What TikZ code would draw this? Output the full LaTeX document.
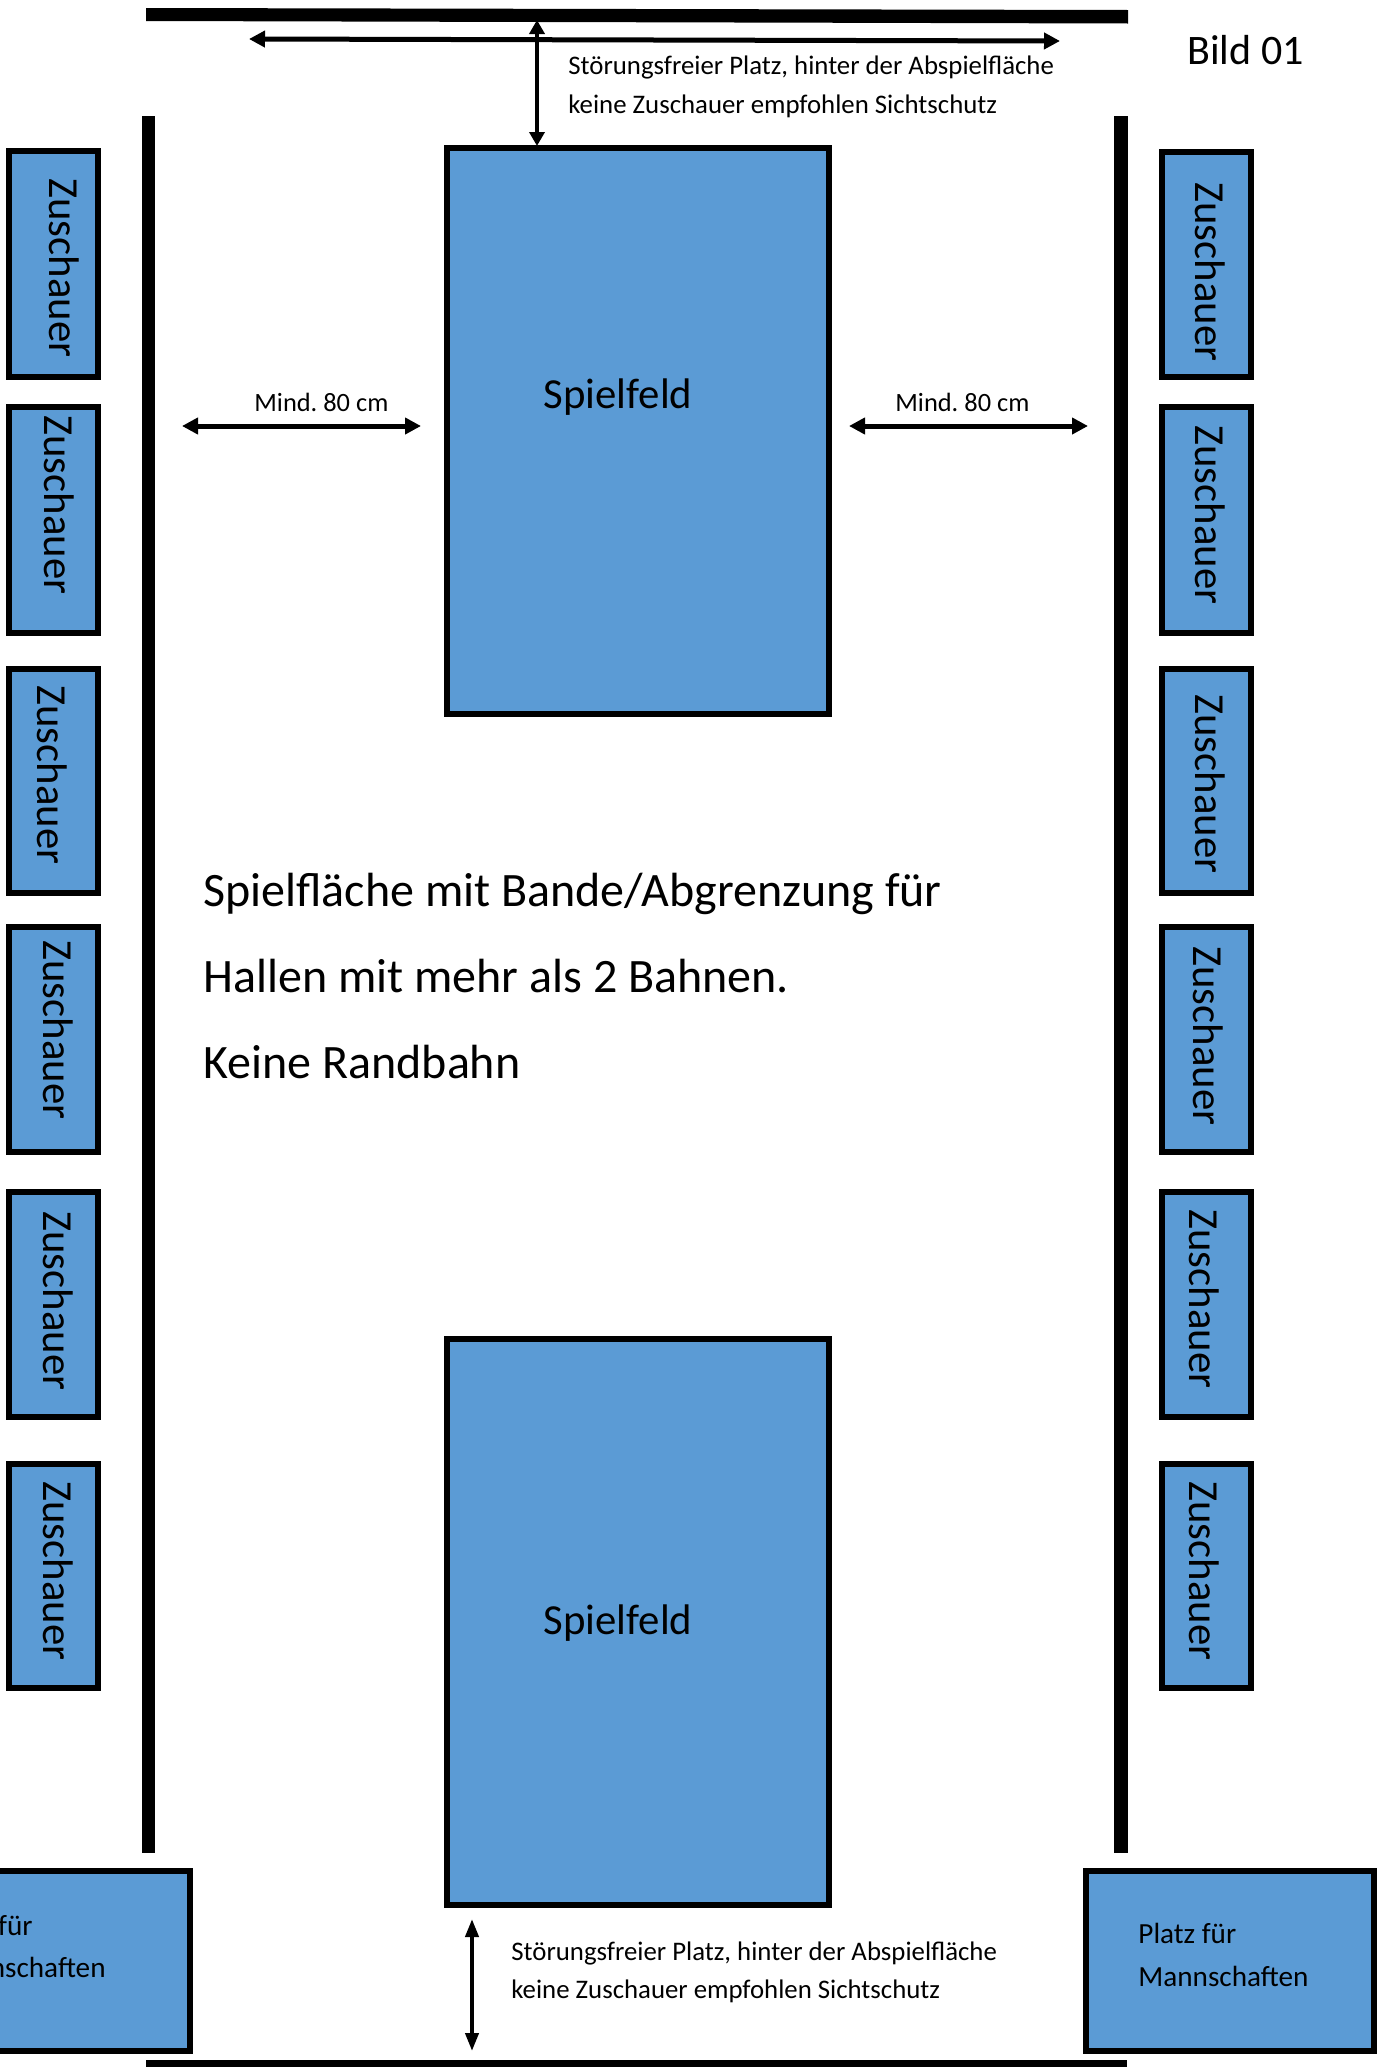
\documentclass[tikz,border=0pt]{standalone}
\usepackage{fontspec}
\setmainfont{Carlito}
\usetikzlibrary{arrows.meta}
\definecolor{feld}{RGB}{91,155,213}
\tikzset{
  x=0.5pt,y=-0.5pt,
  blue box/.style={draw=black,fill=feld,line width=2.6pt,rectangle,inner sep=0pt,outer sep=0pt},
  field box/.style={blue box,line width=3pt,minimum width=191pt,minimum height=283pt,anchor=north west},
  wall/.style={fill=black,draw=none},
  dim/.style={line width=2.5pt,{Triangle[length=8pt,width=8pt]}-{Triangle[length=8pt,width=8pt]}},
  vdimtop/.style={line width=2pt,{Triangle[length=7pt,width=7.5pt]}-{Triangle[length=7pt,width=7.5pt]}},
  vdim/.style={line width=2pt,{Triangle[length=9pt,width=6.5pt]}-{Triangle[length=9pt,width=6.5pt]}},
  big/.style={font=\fontsize{21.4}{25}\selectfont,inner sep=0pt},
  huge text/.style={font=\fontsize{24}{28}\selectfont,inner sep=0pt,anchor=base west},
  small/.style={font=\fontsize{13.2}{16}\selectfont\frenchspacing,inner sep=0pt,anchor=base west},
  note/.style={font=\fontsize{13.4}{16}\selectfont\frenchspacing,inner sep=0pt,anchor=base west},
  team/.style={font=\fontsize{14.6}{18}\selectfont,inner sep=0pt,anchor=base west},
  vert/.style={big,rotate=-90}
}
\newcommand{\zbox}[6]{%
  \path[blue box] (#2,#3) rectangle (#4,#5);
  \node[vert] (#1) at (#6) {Zuschauer};
}
\begin{document}
\begin{tikzpicture}
\useasboundingbox (0,0) rectangle (1383,2067);
\fill[white] (0,0) rectangle (1383,2067);
% walls
\fill[wall] (146,8) -- (1128,10) -- (1128,23.5) -- (146,21) -- cycle;
\fill[wall] (142,116) rectangle (155,1853);
\fill[wall] (1114,116) rectangle (1128,1853);
\fill[wall] (146,2060) rectangle (1127,2067);
% fields
\node[field box] (feldA) at (447,148) {};
\node[field box] (feldB) at (447,1339) {};
\node[big] (labelA) at (618,397) {Spielfeld};
\node[big] (labelB) at (618,1623) {Spielfeld};
% spectators left
\zbox{zl1}{9}{151}{98}{377}{64,268}
\zbox{zl2}{9}{407}{98}{633}{59,505}
\zbox{zl3}{9}{669}{98}{893}{52,775}
\zbox{zl4}{9}{927}{98}{1152}{58,1030}
\zbox{zl5}{9}{1192}{98}{1417}{58,1301}
\zbox{zl6}{9}{1464}{98}{1688}{58,1571}
% spectators right
\zbox{zr1}{1162}{152}{1251}{377}{1210,272}
\zbox{zr2}{1162}{407}{1251}{633}{1210,515}
\zbox{zr3}{1162}{669}{1251}{893}{1210,784}
\zbox{zr4}{1162}{927}{1251}{1152}{1208,1036}
\zbox{zr5}{1162}{1192}{1251}{1417}{1204,1299}
\zbox{zr6}{1162}{1464}{1251}{1688}{1204,1571}
% team boxes
\path[blue box] (-10,1871) rectangle (190,2051);
\path[blue box] (1086,1871) rectangle (1374,2051);
\node[team,anchor=base east] (teamL1) at (33,1935) {Platz für};
\node[team,anchor=base east] (teamL2) at (106,1977) {Mannschaften};
\node[team] (teamR1) at (1138,1943) {Platz für};
\node[team] (teamR2) at (1138,1986) {Mannschaften};
% text
\node[big,anchor=base west,font=\fontsize{21}{25}\selectfont] (bild) at (1187,64) {Bild 01};
\node[note] (t1) at (568,74) {Störungsfreier Platz, hinter der Abspielfläche};
\node[note] (t2) at (568,113) {keine Zuschauer empfohlen Sichtschutz};
\node[note] (t3) at (511,1960) {Störungsfreier Platz, hinter der Abspielfläche};
\node[note] (t4) at (511,1998) {keine Zuschauer empfohlen Sichtschutz};
\node[small] (m1) at (254,411) {Mind. 80 cm};
\node[small] (m2) at (895,411) {Mind. 80 cm};
\node[huge text] (h1) at (203,906) {Spielfläche mit Bande/Abgrenzung für};
\node[huge text] (h2) at (203,992) {Hallen mit mehr als 2 Bahnen.};
\node[huge text] (h3) at (203,1078) {Keine Randbahn};
% connectors
\coordinate (wallT) at (537,20);
\coordinate (fA) at (537,146);
\coordinate (hl) at (249,39);
\coordinate (hr) at (1060,41);
\coordinate (bT) at (472,1919);
\coordinate (bB) at (472,2051);
\coordinate (ml1) at (182,426);
\coordinate (ml2) at (421,426);
\coordinate (mr1) at (849,426);
\coordinate (mr2) at (1088,426);
\draw[dim] (hl) -- (hr);
\draw[vdimtop] (wallT) -- (fA);
\draw[vdim] (bT) -- (bB);
\draw[dim] (ml1) -- (ml2);
\draw[dim] (mr1) -- (mr2);
\end{tikzpicture}
\end{document}
